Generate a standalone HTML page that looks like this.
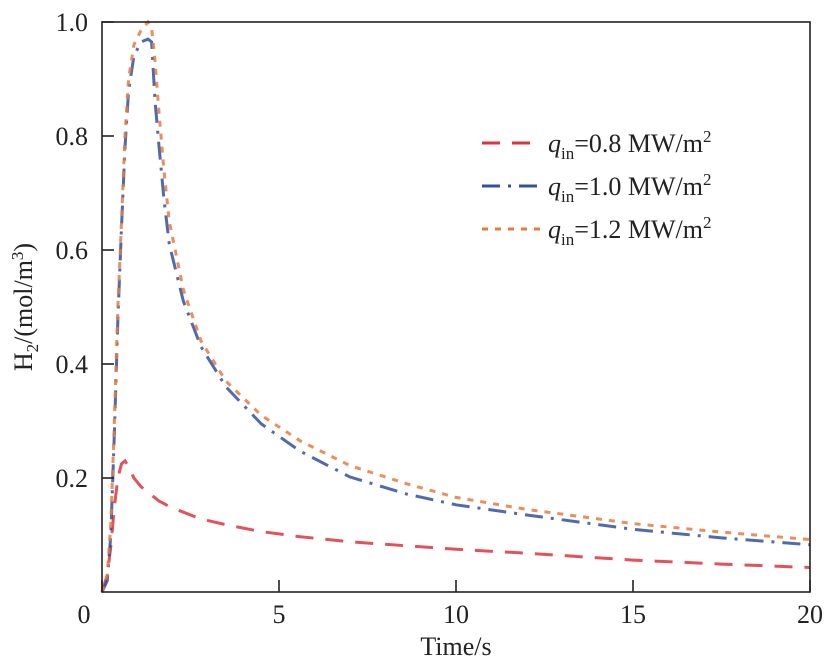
<!DOCTYPE html>
<html><head><meta charset="utf-8"><style>
body{margin:0;background:#fff}
svg{display:block;font-family:"Liberation Serif",serif}
</style></head><body>
<svg id="chart" width="832" height="663">
<g id="series"></g>
<rect x="102" y="22" width="708" height="570" fill="none" stroke="#222" stroke-width="1.6"/>
<g id="axes"></g>
<text x="456" y="655" font-size="26" text-anchor="middle" fill="#222">Time/s</text>
<text transform="translate(32,307) rotate(-90)" font-size="26" text-anchor="middle" fill="#222">H<tspan font-size="17" dy="6">2</tspan><tspan dy="-6">/(mol/m</tspan><tspan font-size="17" dy="-9">3</tspan><tspan dy="9">)</tspan></text>
<g font-size="26" fill="#222">
<line x1="482" y1="143" x2="540" y2="143" stroke="#e0323c" stroke-width="3" stroke-dasharray="18,12"/>
<text x="548" y="152"><tspan font-style="italic">q</tspan><tspan font-size="17" dy="7">in</tspan><tspan dy="-7">=0.8 MW/m</tspan><tspan font-size="17" dy="-10">2</tspan></text>
<line x1="482" y1="186" x2="540" y2="186" stroke="#3050a0" stroke-width="3" stroke-dasharray="18,8,3,8"/>
<text x="548" y="195"><tspan font-style="italic">q</tspan><tspan font-size="17" dy="7">in</tspan><tspan dy="-7">=1.0 MW/m</tspan><tspan font-size="17" dy="-10">2</tspan></text>
<line x1="482" y1="229" x2="540" y2="229" stroke="#e87a3c" stroke-width="3" stroke-dasharray="6,7"/>
<text x="548" y="238"><tspan font-style="italic">q</tspan><tspan font-size="17" dy="7">in</tspan><tspan dy="-7">=1.2 MW/m</tspan><tspan font-size="17" dy="-10">2</tspan></text>
</g>
</svg>
<script>
const times=[0,0.15,0.25,0.35,0.45,0.55,0.65,0.75,0.9,1.1,1.3,1.4,1.5,1.6,1.75,1.9,2.3,2.8,3.5,4.5,5.6,7,8.6,10,12,15,17.5,20];
const q12=[0,0.03,0.12,0.3,0.5,0.65,0.8,0.9,0.96,0.985,1.0,0.99,0.93,0.85,0.74,0.65,0.53,0.44,0.37,0.31,0.265,0.222,0.19,0.166,0.145,0.12,0.105,0.092];
const q10=[0,0.02,0.1,0.28,0.48,0.64,0.78,0.88,0.94,0.965,0.97,0.965,0.86,0.79,0.69,0.61,0.51,0.43,0.36,0.295,0.247,0.202,0.172,0.153,0.135,0.11,0.095,0.083];
const q08=[0,0.03,0.08,0.15,0.2,0.225,0.23,0.22,0.2,0.185,0.175,0.17,0.165,0.16,0.155,0.15,0.14,0.128,0.118,0.106,0.097,0.088,0.081,0.075,0.068,0.056,0.049,0.043];
const xTicks=[0,5,10,15,20];
const yTicks=[0.2,0.4,0.6,0.8,1.0];
const NS="http://www.w3.org/2000/svg";
const X=t=>102+t*35.4, Y=v=>592-v*570;
const axes=document.getElementById('axes');
xTicks.forEach(t=>{
 const l=document.createElementNS(NS,'line');
 l.setAttribute('x1',X(t));l.setAttribute('x2',X(t));l.setAttribute('y1',592);l.setAttribute('y2',580);
 l.setAttribute('stroke','#222');l.setAttribute('stroke-width','1.6');
 
 
 axes.appendChild(l);
 const tx=document.createElementNS(NS,'text');
 tx.setAttribute('x',t===0?84:X(t));tx.setAttribute('y',623);tx.setAttribute('font-size','26');
 tx.setAttribute('text-anchor','middle');tx.setAttribute('fill','#222');tx.textContent=t;
 
 
 axes.appendChild(tx);
});
yTicks.forEach(v=>{
 const l=document.createElementNS(NS,'line');
 l.setAttribute('x1',102);l.setAttribute('x2',114);l.setAttribute('y1',Y(v));l.setAttribute('y2',Y(v));
 l.setAttribute('stroke','#222');l.setAttribute('stroke-width','1.6');
 
 
 axes.appendChild(l);
 const tx=document.createElementNS(NS,'text');
 tx.setAttribute('x',88);tx.setAttribute('y',Y(v)+9);tx.setAttribute('font-size','26');
 tx.setAttribute('text-anchor','end');tx.setAttribute('fill','#222');tx.textContent=v.toFixed(1);
 
 
 axes.appendChild(tx);
});
const g=document.getElementById('series');
[[q08,'#e0323c','18,12','series-q0.8'],[q10,'#3050a0','18,8,3,8','series-q1.0'],[q12,'#e87a3c','6,7','series-q1.2']].forEach(s=>{
 const p=document.createElementNS(NS,'path');
 p.setAttribute('d',times.map((t,i)=>(i?'L':'M')+X(t).toFixed(1)+','+Y(s[0][i]).toFixed(1)).join(''));
 p.setAttribute('fill','none');p.setAttribute('stroke',s[1]);p.setAttribute('stroke-width','3');
 p.setAttribute('stroke-dasharray',s[2]);p.setAttribute('stroke-opacity','0.85');
 
 
 g.appendChild(p);
});
</script>
</body></html>
